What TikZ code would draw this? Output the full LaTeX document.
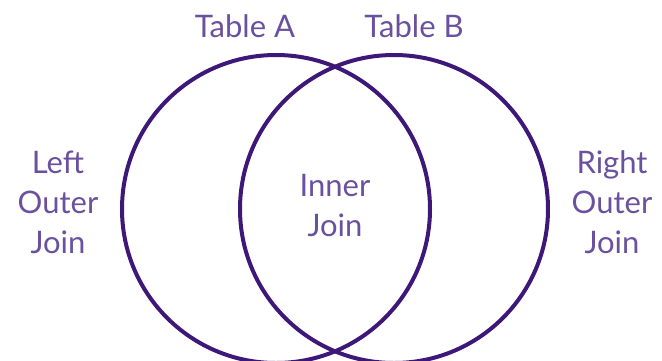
\documentclass[tikz,border=0pt]{standalone}
\usepackage{fontspec}
\setmainfont{Lato}
\definecolor{ringpurple}{RGB}{62,24,120}
\definecolor{textpurple}{RGB}{106,80,158}
\tikzset{
  setring/.style={circle, draw=ringpurple, line width=4pt, minimum size=308pt, inner sep=0pt},
  joinlabel/.style={text=textpurple, font=\fontsize{31}{40}\selectfont, align=center, inner sep=0pt}
}
\begin{document}
\begin{tikzpicture}[x=1pt, y=-1pt]
		\useasboundingbox (0,0) rectangle (662,360);
		\clip (0,0) rectangle (662,360);
		\node[setring] (tableA) at (276,209){};
		\node[setring] (tableB) at (394,209){};
		\node[joinlabel] (nameA) at (245,26){Table A};
		\node[joinlabel] (nameB) at (414,26){Table B};
		\node[joinlabel] (leftjoin) at (58,202){Left\\Outer\\Join};
		\node[joinlabel] (rightjoin) at (612,202){Right\\Outer\\Join};
		\node[joinlabel] (innerjoin) at (335,206){Inner\\Join};
		\end{tikzpicture}
\end{document}
